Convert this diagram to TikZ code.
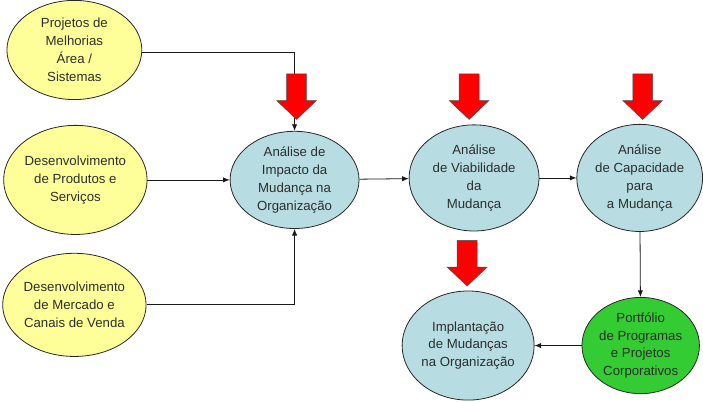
\documentclass[tikz,border=0pt]{standalone}
\usepackage{fontspec}
\setmainfont{Liberation Sans}
\usetikzlibrary{shapes.geometric,arrows.meta}

\definecolor{cYellow}{RGB}{255,255,153}
\definecolor{cBlue}{RGB}{183,221,226}
\definecolor{cGreen}{RGB}{51,204,51}
\definecolor{cText}{RGB}{45,45,45}

\tikzset{
  bubble/.style={ellipse, draw=black!85, line width=0.6pt, inner sep=0pt,
    align=center, text=cText, font=\fontsize{10}{13.5}\selectfont},
  bsize/.style 2 args={minimum width=#1*0.75pt, minimum height=#2*0.75pt},
  link/.style={draw=black!90, line width=0.6pt, -{Latex[length=5pt,width=4pt]}},
  bigarrow/.style={fill=red, draw=black!70, line width=0.4pt},
}

\begin{document}
\begin{tikzpicture}[x=0.75pt,y=0.75pt,yscale=-1,xscale=1]
    \path (0,0) rectangle (703,405); %picture frame

    % Entradas
    \node [bubble, fill=cYellow, bsize={136}{100}] (proj) at (75,50) {Projetos de\\Melhorias\\Área /\\Sistemas};
    \node [bubble, fill=cYellow, bsize={123}{110}] (prod) at (76,181) {Desenvolvimento\\de Produtos e\\Serviços};
    \node [bubble, fill=cYellow, bsize={124}{104}] (merc) at (75,307) {Desenvolvimento\\de Mercado e\\Canais de Venda};

    % Analises
    \node [bubble, fill=cBlue, bsize={130}{98}] (impacto) at (297,181) {Análise de\\Impacto da\\Mudança na\\Organização};
    \node [bubble, fill=cBlue, bsize={131}{107}] (viab) at (478,179) {Análise\\de Viabilidade\\da\\Mudança};
    \node [bubble, fill=cBlue, bsize={114}{108}] (capac) at (645,179) {Análise\\de Capacidade\\para\\a Mudança};

    % Saidas
    \node [bubble, fill=cGreen, bsize={118}{97}] (port) at (646,348) {Portfólio\\de Programas\\e Projetos\\Corporativos};
    \node [bubble, fill=cBlue, bsize={113}{110}] (impl) at (472,348) {Implantação\\de Mudanças\\na Organização};

    %Straight Lines
    \draw [link] (proj.east |- 0,52) -| (impacto.north);
    \draw [link] (prod) -- (impacto);
    \draw [link] (merc) -| (impacto.south);
    \draw [link] (impacto) -- (viab);
    \draw [link] (viab) -- (capac);
    \draw [link] (capac) -- (port);
    \draw [link] (port) -- (impl);

    %Block Arrows
    \foreach \ax/\ay in {299/74, 473/74, 648/74, 471/242}
      \draw [bigarrow, shift={(\ax,\ay)}] (-10,0) -- (10,0) -- (10,27) -- (20,27) -- (0,46) -- (-20,27) -- (-10,27) -- cycle;

\end{tikzpicture}
\end{document}
